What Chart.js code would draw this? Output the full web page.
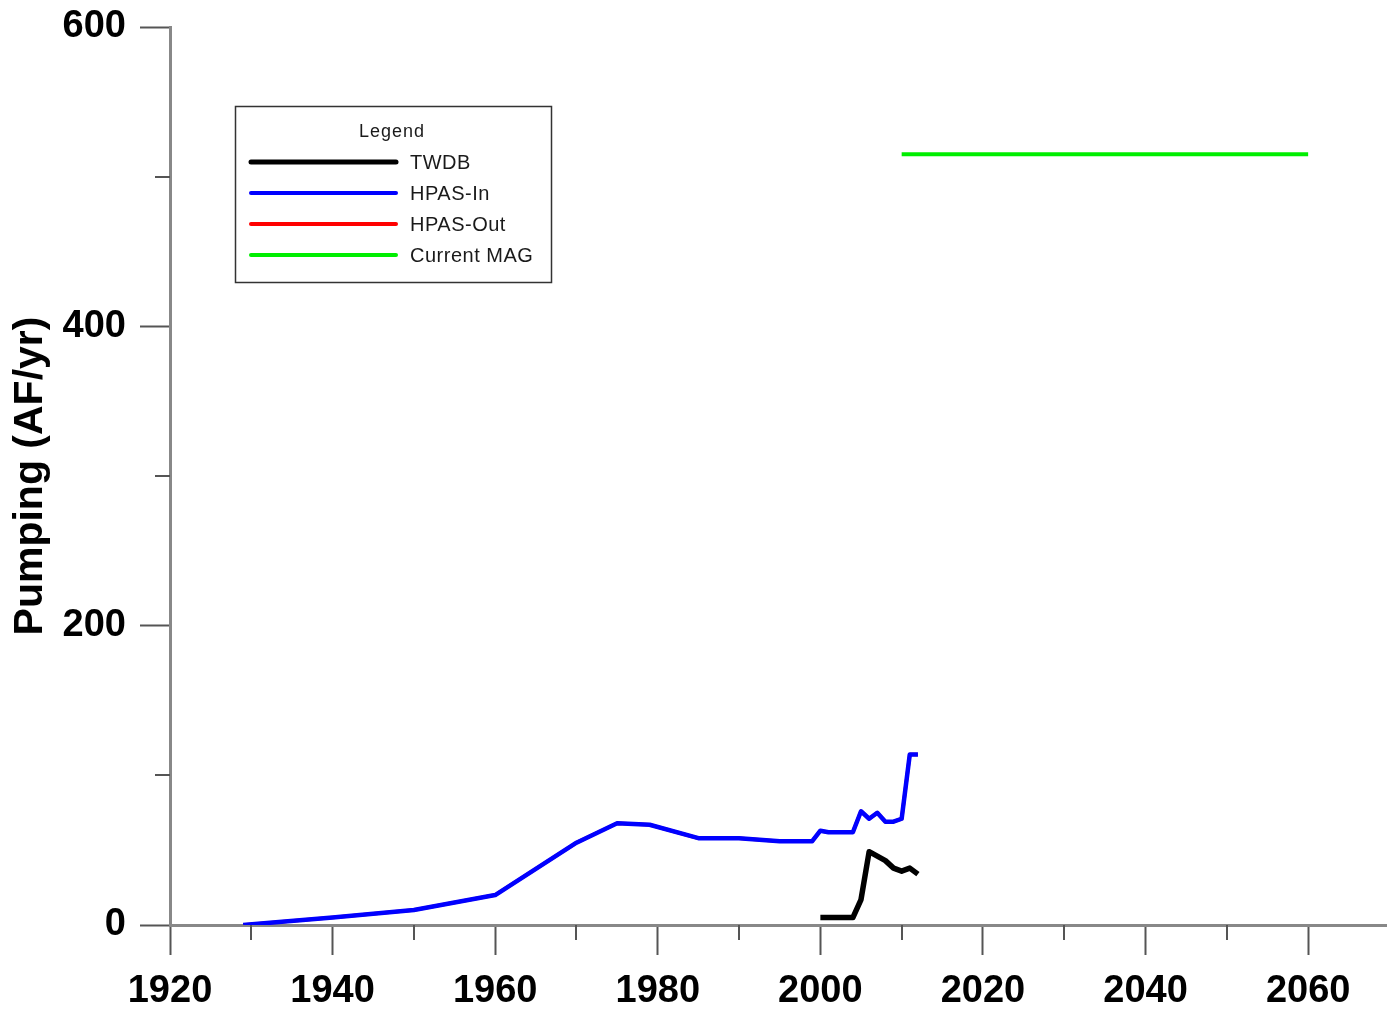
<!DOCTYPE html>
<html>
<head>
<meta charset="utf-8">
<script src="https://cdn.jsdelivr.net/npm/chart.js@4.4.1/dist/chart.umd.min.js"></script>
<style>
  html, body { margin: 0; padding: 0; background: #fff; }
  #wrap { width: 1387px; height: 1014px; }
</style>
</head>
<body>
<div id="wrap"><canvas id="pumpChart" width="1387" height="1014"></canvas></div>
<script>
// values
const twdbYears = [2000, 2001, 2002, 2003, 2004, 2005, 2006, 2007, 2008, 2009, 2010, 2011, 2012];
const twdbValues = [5, 5, 5, 5, 5, 17, 49, 46, 43, 38, 36, 38, 34];

const hpasInYears = [1929, 1940, 1950, 1960, 1970, 1975, 1979, 1985, 1990, 1995, 1999, 2000, 2001, 2004, 2005, 2006, 2007, 2008, 2009, 2010, 2011, 2012];
const hpasInValues = [0, 5, 10, 20, 55, 68, 67, 58, 58, 56, 56, 63, 62, 62, 76, 71, 75, 69, 69, 71, 114, 114];

// HPAS-Out sits underneath HPAS-In
const hpasOutYears = [1929, 1940, 1950, 1960, 1970, 1975, 1979, 1985, 1990, 1995, 1999, 2000, 2001, 2004, 2005, 2006, 2007, 2008, 2009, 2010, 2011, 2012];
const hpasOutValues = [0, 5, 10, 20, 55, 68, 67, 58, 58, 56, 56, 63, 62, 62, 76, 71, 75, 69, 69, 71, 114, 114];

const magYears = [2010, 2060];
const magValues = [515, 515];

const seriesNames = ['TWDB', 'HPAS-In', 'HPAS-Out', 'Current MAG'];
const seriesColors = ['#000000', '#0000ff', '#ff0000', '#00ee00'];

// axis ticks: labelled (major) and unlabelled (minor)
const xMajorTicks = [1920, 1940, 1960, 1980, 2000, 2020, 2040, 2060];
const xMinorTicks = [1930, 1950, 1970, 1990, 2010, 2030, 2050];
const yMajorTicks = [0, 200, 400, 600];
const yMinorTicks = [100, 300, 500];

function toPoints(xs, ys) {
  return xs.map((x, i) => ({ x: x, y: ys[i] }));
}

// minor tick marks (Chart.js has no minor ticks)
const minorTicks = {
  id: 'minorTicks',
  afterDraw(chart) {
    const { ctx, chartArea, scales: { x, y } } = chart;
    ctx.save();
    ctx.strokeStyle = '#555';
    ctx.lineWidth = 2;
    ctx.beginPath();
    xMinorTicks.forEach(v => {
      const px = Math.round(x.getPixelForValue(v));
      ctx.moveTo(px, chartArea.bottom);
      ctx.lineTo(px, chartArea.bottom + 15);
    });
    yMinorTicks.forEach(v => {
      const py = Math.round(y.getPixelForValue(v));
      ctx.moveTo(chartArea.left - 15, py);
      ctx.lineTo(chartArea.left, py);
    });
    ctx.stroke();
    ctx.restore();
  }
};

// boxed legend inside the plot
const boxLegend = {
  id: 'boxLegend',
  afterDraw(chart) {
    const ctx = chart.ctx;
    const bx = 235, by = 106, bw = 316, bh = 176;
    ctx.save();
    ctx.fillStyle = '#fff';
    ctx.fillRect(bx, by, bw, bh);
    ctx.strokeStyle = '#333';
    ctx.lineWidth = 1.5;
    ctx.strokeRect(bx + 0.5, by + 0.5, bw, bh);

    ctx.fillStyle = '#1a1a1a';
    ctx.font = '18px "Liberation Sans", Arial, sans-serif';
    ctx.letterSpacing = '1px';
    ctx.textAlign = 'center';
    ctx.textBaseline = 'middle';
    ctx.fillText('Legend', 392, 132);

    ctx.textAlign = 'left';
    ctx.font = '20px "Liberation Sans", Arial, sans-serif';
    ctx.letterSpacing = '0.5px';
    chart.data.datasets.forEach((ds, i) => {
      const yy = 162 + i * 31;
      ctx.strokeStyle = ds.borderColor;
      ctx.lineWidth = i === 0 ? 5 : 4;
      ctx.lineCap = 'round';
      ctx.beginPath();
      ctx.moveTo(251, yy);
      ctx.lineTo(396, yy);
      ctx.stroke();
      ctx.fillStyle = '#1a1a1a';
      ctx.fillText(ds.label, 410, yy + 1);
    });
    ctx.restore();
  }
};

const ctx = document.getElementById('pumpChart');

new Chart(ctx, {
  type: 'line',
  data: {
    datasets: [
      { label: seriesNames[0], data: toPoints(twdbYears, twdbValues), borderColor: seriesColors[0], borderWidth: 5.5, order: 1 },
      { label: seriesNames[1], data: toPoints(hpasInYears, hpasInValues), borderColor: seriesColors[1], borderWidth: 4.5, order: 2 },
      { label: seriesNames[2], data: toPoints(hpasOutYears, hpasOutValues), borderColor: seriesColors[2], borderWidth: 3.5, order: 3 },
      { label: seriesNames[3], data: toPoints(magYears, magValues), borderColor: seriesColors[3], borderWidth: 4, order: 4 }
    ]
  },
  plugins: [minorTicks, boxLegend],
  options: {
    responsive: false,
    animation: false,
    devicePixelRatio: 1,
    layout: { padding: { top: 27, right: 0, left: 0, bottom: 0 } },
    elements: {
      point: { radius: 0, hoverRadius: 0 },
      line: { tension: 0, borderJoinStyle: 'round', borderCapStyle: 'butt', fill: false }
    },
    plugins: {
      legend: { display: false },
      tooltip: { enabled: false },
      title: { display: false }
    },
    scales: {
      x: {
        type: 'linear',
        min: 1920,
        max: 2069.7,
        afterBuildTicks(scale) {
          scale.ticks = xMajorTicks.map(v => ({ value: v }));
        },
        afterFit(scale) {
          scale.height = 89;
          scale.paddingLeft = 0;
          scale.paddingRight = 0;
        },
        border: { display: true, color: '#888', width: 3 },
        grid: {
          drawOnChartArea: false,
          drawTicks: true,
          tickLength: 30,
          tickWidth: 2,
          tickColor: '#555'
        },
        ticks: {
          autoSkip: false,
          maxRotation: 0,
          padding: 14,
          color: '#000',
          font: { family: '"Liberation Sans", Arial, sans-serif', size: 38, weight: 'bold' },
          callback: v => String(v)
        }
      },
      y: {
        min: 0,
        max: 600,
        afterBuildTicks(scale) {
          scale.ticks = yMajorTicks.map(v => ({ value: v }));
        },
        afterFit(scale) {
          scale.width = 170;
          scale.paddingTop = 0;
          scale.paddingBottom = 0;
        },
        border: { display: true, color: '#888', width: 3 },
        grid: {
          drawOnChartArea: false,
          drawTicks: true,
          tickLength: 30,
          tickWidth: 2,
          tickColor: '#555'
        },
        ticks: {
          autoSkip: false,
          padding: 14,
          color: '#000',
          font: { family: '"Liberation Sans", Arial, sans-serif', size: 38, weight: 'bold' },
          callback: v => String(v)
        },
        title: {
          display: true,
          text: 'Pumping (AF/yr)',
          color: '#000',
          padding: { top: 6, bottom: 0 },
          font: { family: '"Liberation Sans", Arial, sans-serif', size: 41, weight: 'bold' }
        }
      }
    }
  }
});
</script>
</body>
</html>
